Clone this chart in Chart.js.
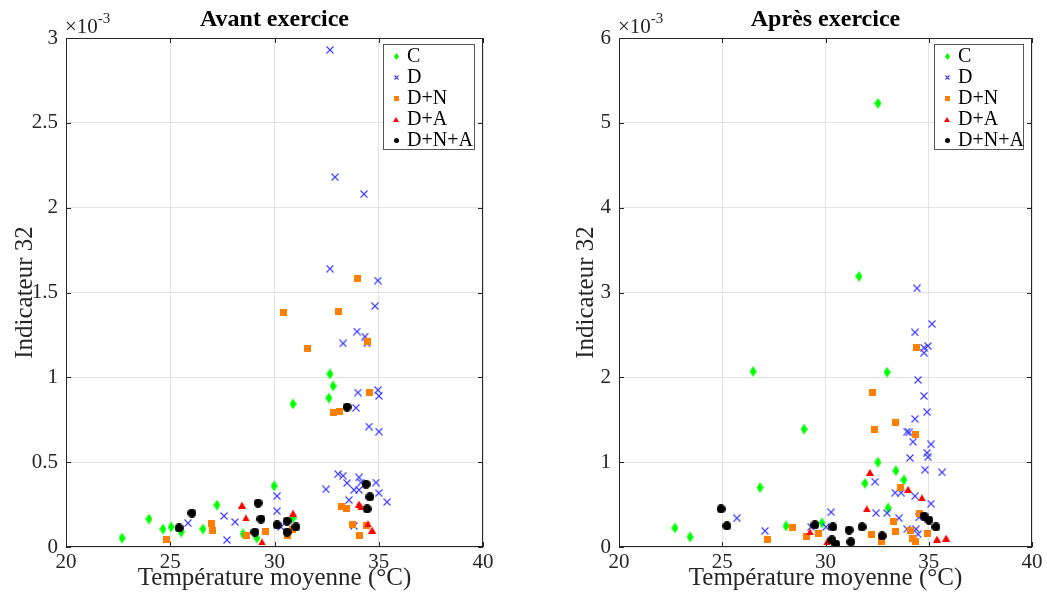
<!DOCTYPE html>
<html>
<head>
<meta charset="utf-8">
<script src="https://cdn.jsdelivr.net/npm/chart.js@4/dist/chart.umd.min.js"></script>
<style>
  body { margin: 0; background: #fff; }
  #wrap { position: relative; width: 1047px; height: 603px; }
  canvas { position: absolute; top: 0; }
</style>
</head>
<body>
<div id="wrap">
  <canvas id="avant" width="523" height="603" style="left:0;width:523px;height:603px"></canvas>
  <canvas id="apres" width="524" height="603" style="left:523px;width:524px;height:603px"></canvas>
</div>
<script>
// valeurs en unités de 1e-3
var groupes = ['C', 'D', 'D+N', 'D+A', 'D+N+A'];
var xTicks = [20, 25, 30, 35, 40];

var avantC = [[22.69,0.053],[23.98,0.165],[24.65,0.106],[25.04,0.118],[25.52,0.088],[26.57,0.106],[27.24,0.247],[28.49,0.077],[29.16,0.053],[29.98,0.36],[30.89,0.171],[30.89,0.843],[32.61,0.878],[32.66,1.02],[32.81,0.949]];
var avantD = [[25.85,0.141],[27.58,0.183],[28.11,0.147],[27.72,0.041],[30.12,0.30],[30.12,0.212],[30.31,0.118],[32.47,0.34],[33.05,0.43],[33.29,0.42],[33.48,0.377],[34.05,0.41],[34.15,0.38],[34.87,0.38],[33.81,0.336],[34.05,0.336],[35.0,0.318],[35.4,0.265],[33.57,0.277],[33.81,0.124],[32.66,2.93],[32.9,2.18],[34.29,2.08],[32.66,1.64],[34.96,1.57],[34.82,1.42],[33.96,1.27],[34.34,1.24],[34.44,1.20],[33.29,1.20],[34.0,0.91],[34.96,0.925],[35.01,0.89],[33.91,0.82],[34.53,0.71],[35.01,0.68]];
var avantDN = [[24.84,0.047],[27.0,0.136],[27.05,0.10],[28.68,0.065],[29.59,0.094],[30.6,0.065],[30.84,0.106],[33.19,0.236],[33.43,0.224],[33.72,0.13],[34.1,0.065],[34.39,0.124],[32.85,0.79],[33.14,0.80],[30.41,1.38],[31.56,1.17],[33.09,1.39],[34.0,1.58],[34.44,1.21],[34.58,0.91]];
var avantDA = [[28.44,0.247],[28.63,0.171],[29.4,0.03],[30.89,0.20],[34.05,0.253],[34.15,0.236],[34.48,0.136],[34.68,0.10]];
var avantDNA = [[25.42,0.112],[26.04,0.20],[29.06,0.088],[29.21,0.259],[29.35,0.165],[30.12,0.13],[30.6,0.153],[30.6,0.088],[31.03,0.118],[33.48,0.825],[34.39,0.37],[34.58,0.295],[34.44,0.224]];

var apresC = [[32.54,5.23],[31.62,3.19],[26.49,2.07],[28.96,1.39],[26.83,0.70],[22.71,0.224],[23.44,0.118],[28.09,0.248],[29.83,0.283],[32.98,2.06],[32.54,1.0],[31.91,0.75],[33.41,0.90],[33.8,0.79],[33.03,0.46]];
var apresD = [[34.43,3.05],[35.16,2.63],[34.33,2.53],[34.77,2.35],[34.96,2.37],[34.77,2.29],[34.48,1.97],[34.77,1.78],[34.92,1.59],[34.33,1.51],[33.95,1.36],[34.05,1.35],[34.24,1.24],[35.11,1.21],[34.92,1.11],[34.96,1.06],[34.09,1.05],[34.82,0.91],[35.64,0.88],[32.4,0.77],[33.37,0.64],[33.66,0.64],[34.33,0.60],[35.11,0.51],[30.27,0.41],[32.45,0.40],[32.98,0.40],[33.56,0.34],[34.53,0.35],[33.95,0.21],[34.38,0.21],[34.48,0.15],[25.71,0.34],[27.07,0.19],[29.3,0.236],[30.02,0.236]];
var apresDN = [[34.43,2.35],[32.3,1.82],[33.37,1.47],[32.35,1.38],[34.38,1.33],[33.61,0.70],[34.53,0.40],[33.27,0.30],[32.25,0.15],[33.41,0.177],[34.14,0.20],[34.96,0.165],[34.19,0.106],[32.69,0.059],[34.38,0.07],[27.17,0.094],[28.38,0.224],[29.06,0.118],[29.64,0.165]];
var apresDA = [[32.15,0.88],[34.0,0.68],[34.67,0.58],[32.0,0.45],[35.4,0.094],[35.84,0.106],[29.25,0.177],[30.07,0.059]];
var apresDNA = [[34.77,0.365],[35.01,0.318],[35.35,0.236],[31.14,0.20],[31.77,0.236],[32.74,0.13],[31.23,0.059],[24.94,0.448],[25.23,0.248],[29.49,0.26],[30.36,0.236],[30.31,0.083],[30.5,0.035]];

var SERIF = '"Liberation Serif", "DejaVu Serif", serif';
var AXE = '#262626';

// marqueurs façon MATLAB
function marker(kind, s) {
  var c = document.createElement('canvas');
  var w = Math.ceil(s.w), h = Math.ceil(s.h);
  c.width = w; c.height = h;
  var g = c.getContext('2d');
  if (kind == 'diamond') {
    g.fillStyle = '#00ff00';
    g.beginPath();
    g.moveTo(w / 2, 0); g.lineTo(w, h / 2); g.lineTo(w / 2, h); g.lineTo(0, h / 2);
    g.closePath(); g.fill();
  } else if (kind == 'x') {
    g.strokeStyle = '#3a3aff';
    g.lineWidth = 1.1;
    g.beginPath();
    g.moveTo(0.5, 0.5); g.lineTo(w - 0.5, h - 0.5);
    g.moveTo(w - 0.5, 0.5); g.lineTo(0.5, h - 0.5);
    g.stroke();
  } else if (kind == 'square') {
    g.fillStyle = '#ff8000';
    g.fillRect(0, 0, w, h);
  } else if (kind == 'triangle') {
    g.fillStyle = '#ff0000';
    g.beginPath();
    g.moveTo(w / 2, 0); g.lineTo(w, h); g.lineTo(0, h);
    g.closePath(); g.fill();
  } else {
    g.fillStyle = '#000000';
    g.beginPath();
    g.arc(w / 2, h / 2, w / 2, 0, Math.PI * 2);
    g.fill();
  }
  return c;
}

var kinds = ['diamond', 'x', 'square', 'triangle', 'circle'];
var sizesPlot = [{w: 7, h: 11}, {w: 8, h: 8}, {w: 7, h: 7}, {w: 8, h: 7}, {w: 9, h: 9}];
var sizesLeg = [{w: 5, h: 7}, {w: 5, h: 5}, {w: 5, h: 5}, {w: 6, h: 5}, {w: 5, h: 5}];
var mPlot = kinds.map(function (k, i) { return marker(k, sizesPlot[i]); });
var mLeg = kinds.map(function (k, i) { return marker(k, sizesLeg[i]); });

function toPts(arr) {
  return arr.map(function (p) { return {x: p[0], y: p[1]}; });
}

var decor = {
  id: 'decor',
  afterDraw: function (chart) {
    var o = chart.options.plugins.decor;
    var ctx = chart.ctx, a = chart.chartArea;
    var xs = chart.scales.x, ys = chart.scales.y;
    ctx.save();
    // cadre
    ctx.strokeStyle = AXE;
    ctx.lineWidth = 1;
    ctx.strokeRect(Math.round(a.left) + 0.5, Math.round(a.top) + 0.5,
      Math.round(a.right - a.left) - 1, Math.round(a.bottom - a.top) - 1);
    // graduations vers l'intérieur
    ctx.beginPath();
    xs.ticks.forEach(function (t) {
      var px = Math.round(xs.getPixelForValue(t.value)) + 0.5;
      ctx.moveTo(px, a.bottom); ctx.lineTo(px, a.bottom - 5);
      ctx.moveTo(px, a.top); ctx.lineTo(px, a.top + 5);
    });
    ys.ticks.forEach(function (t) {
      var py = Math.round(ys.getPixelForValue(t.value)) + 0.5;
      ctx.moveTo(a.left, py); ctx.lineTo(a.left + 5, py);
      ctx.moveTo(a.right, py); ctx.lineTo(a.right - 5, py);
    });
    ctx.stroke();

    // titre
    ctx.fillStyle = '#000';
    ctx.font = 'bold 24px ' + SERIF;
    ctx.textAlign = 'center';
    ctx.textBaseline = 'middle';
    ctx.fillText(o.title, (a.left + a.right) / 2, 20);

    // titres des axes
    ctx.fillStyle = AXE;
    ctx.font = '25px ' + SERIF;
    ctx.fillText('Température moyenne (°C)', (a.left + a.right) / 2, 578);
    ctx.save();
    ctx.translate(a.left - o.yTitleGap, (a.top + a.bottom) / 2);
    ctx.rotate(-Math.PI / 2);
    ctx.textBaseline = 'alphabetic';
    ctx.fillText('Indicateur 32', 0, 0);
    ctx.restore();

    // exposant
    ctx.textAlign = 'left';
    ctx.textBaseline = 'alphabetic';
    ctx.font = '21px ' + SERIF;
    ctx.fillText('×10', a.left - 1, 33);
    var w = ctx.measureText('×10').width;
    ctx.font = '15px ' + SERIF;
    ctx.fillText('-3', a.left - 1 + w, 23);

    // légende
    var lw = o.legW, lh = 105;
    var lx = a.right - 9 - lw, ly = a.top + 6;
    ctx.fillStyle = '#fff';
    ctx.fillRect(lx, ly, lw, lh);
    ctx.strokeStyle = '#555';
    ctx.strokeRect(Math.round(lx) + 0.5, Math.round(ly) + 0.5, lw, lh);
    ctx.font = '20px ' + SERIF;
    ctx.textBaseline = 'middle';
    ctx.fillStyle = '#000';
    groupes.forEach(function (g, i) {
      var cy = ly + 12 + i * 21;
      var m = mLeg[i];
      ctx.drawImage(m, Math.round(lx + 13 - m.width / 2), Math.round(cy - m.height / 2));
      ctx.fillText(g, lx + 24, cy + 1);
    });
    ctx.restore();
  }
};

function makeChart(id, sets, yMax, yStep, axisW, padRight, title, legW, yTitleGap) {
  var datasets = sets.map(function (s, i) {
    return {
      label: groupes[i],
      data: toPts(s),
      pointStyle: mPlot[i],
      pointRadius: 4,
      pointHoverRadius: 4,
      showLine: false,
      order: 5 - i
    };
  });
  return new Chart(document.getElementById(id), {
    type: 'scatter',
    data: {datasets: datasets},
    plugins: [decor],
    options: {
      responsive: false,
      animation: false,
      devicePixelRatio: 1,
      layout: {padding: {top: 38, right: padRight, left: 0, bottom: 0}},
      plugins: {
        legend: {display: false},
        tooltip: {enabled: false},
        decor: {title: title, legW: legW, yTitleGap: yTitleGap}
      },
      scales: {
        x: {
          type: 'linear', min: 20, max: 40,
          afterBuildTicks: function (s) { s.ticks = xTicks.map(function (v) { return {value: v}; }); },
          ticks: {color: AXE, font: {family: SERIF, size: 21}, padding: 3, maxRotation: 0},
          grid: {color: '#e3e3e3', drawTicks: false},
          border: {display: false},
          afterFit: function (s) { s.height = 56; }
        },
        y: {
          type: 'linear', min: 0, max: yMax,
          ticks: {
            stepSize: yStep, color: AXE, font: {family: SERIF, size: 21}, padding: 8,
            callback: function (v) { return String(Math.round(v * 10) / 10); }
          },
          grid: {color: '#e3e3e3', drawTicks: false},
          border: {display: false},
          afterFit: function (s) { s.width = axisW; }
        }
      }
    }
  });
}

makeChart('avant', [avantC, avantD, avantDN, avantDA, avantDNA], 3, 0.5, 66, 40, 'Avant exercice', 91, 34);
makeChart('apres', [apresC, apresD, apresDN, apresDA, apresDNA], 6, 1, 96, 15, 'Après exercice', 89, 26);
</script>
</body>
</html>
